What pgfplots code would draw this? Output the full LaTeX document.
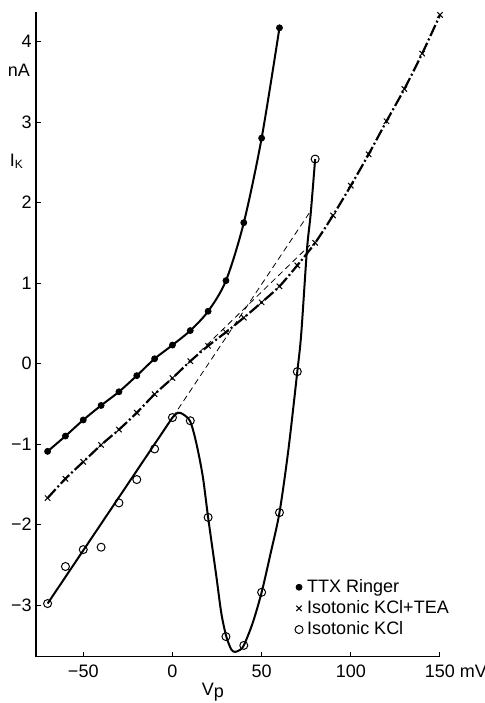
\documentclass[border=0pt]{standalone}
\usepackage{fontspec}
\setmainfont{Liberation Sans}
\usepackage{pgfplots}
\pgfplotsset{compat=1.18}
\begin{document}
\fontsize{9pt}{11pt}\selectfont
\begin{tikzpicture}
\path[use as bounding box] (-18pt,-23.15pt) rectangle (224.5pt,328.35pt);
\begin{axis}[
  at={(0,0)}, anchor=south west,
  scale only axis, width=202pt, height=322.5pt,
  xmin=-76.5, xmax=150, ymin=-3.64, ymax=4.37,
  axis lines*=left,
  axis line style={line width=0.6pt},
  tick align=inside, major tick length=2.5pt,
  tick style={line width=0.5pt, black},
  xtick={-50,0,50,100,150},
  xticklabels={−50,0,50,100,150\rlap{ mV}},
  ytick={-3,-2,-1,0,1,2,3,4},
  yticklabels={−3,−2,−1,0,1,2,3,4},
  xticklabel style={yshift=-1pt},
  yticklabel style={xshift=1pt},
  /pgf/number format/assume math mode=true,
  clip=false,
  legend style={draw=none, fill=none, at={(axis cs:68.5,-2.66)}, anchor=north west,
    inner sep=0pt, row sep=1.5pt, font=\fontsize{9pt}{11pt}\selectfont,
    nodes={inner sep=0.6pt}},
  legend cell align=left,
]
% dashed extrapolations
\addplot[forget plot, black, line width=0.4pt, dash pattern=on 3pt off 2pt] coordinates {(0,-0.67) (77,1.88)};
\addplot[forget plot, black, line width=0.4pt, dash pattern=on 3pt off 2pt] coordinates {(15,0.14) (77,1.47)};
% TTX Ringer curve
\addplot[forget plot, black, line width=1pt, smooth] coordinates {
(-70,-1.09) (-60,-0.90) (-50,-0.70) (-40,-0.52) (-30,-0.35) (-20,-0.15) (-10,0.06) (0,0.23) (10,0.41) (20,0.65) (30,1.03) (40,1.75) (50,2.80) (60,4.17)};
% KCl+TEA curve
\addplot[forget plot, black, line width=1.1pt, smooth, dash pattern=on 6pt off 1.4pt on 1pt off 1.4pt] coordinates {
(-70,-1.67) (-60,-1.43) (-50,-1.22) (-40,-1.01) (-30,-0.82) (-20,-0.61) (-10,-0.38) (0,-0.18) (10,0.03) (20,0.22) (30,0.39) (40,0.57) (50,0.76) (60,0.96) (70,1.22) (80,1.50) (90,1.84) (100,2.21) (110,2.60) (120,3.01) (130,3.41) (140,3.85) (150,4.33)};
% KCl curve
\addplot[forget plot, black, line width=1pt] coordinates {(-70,-2.98) (0,-0.67)};
\addplot[forget plot, black, line width=1pt, smooth] coordinates {
(0,-0.67) (3,-0.61) (6,-0.63) (10,-0.72) (13.4,-0.99) (17,-1.40) (20,-1.91) (24.6,-2.64) (27.4,-3.10) (30.2,-3.39) (33,-3.55) (35,-3.58) (37.5,-3.56) (40,-3.50) (45,-3.22) (50,-2.84) (55,-2.36) (60,-1.85) (65,-1.07) (70,-0.10) (72.2,0.37) (75.4,1.41) (77.5,1.86) (80,2.54)};
% marks
\addplot[only marks, mark=*, mark size=1.5pt, black] coordinates {
(-70,-1.09) (-60,-0.90) (-50,-0.70) (-40,-0.52) (-30,-0.35) (-20,-0.15) (-10,0.06) (0,0.23) (10,0.41) (20,0.65) (30,1.03) (40,1.75) (50,2.80) (60,4.17)};
\addlegendentry{\,TTX Ringer}
\addplot[only marks, mark=x, mark size=1.9pt, black, mark options={line width=0.5pt}] coordinates {
(-70,-1.67) (-60,-1.43) (-50,-1.22) (-40,-1.01) (-30,-0.82) (-20,-0.61) (-10,-0.38) (0,-0.18) (10,0.03) (20,0.22) (30,0.39) (40,0.57) (50,0.76) (60,0.96) (70,1.22) (80,1.50) (90,1.84) (100,2.21) (110,2.60) (120,3.01) (130,3.41) (140,3.85) (150,4.33)};
\addlegendentry{\,Isotonic KCl+TEA}
\addplot[only marks, mark=o, mark size=2pt, black, mark options={fill=white, line width=0.5pt}] coordinates {
(-70,-2.98) (-60,-2.52) (-50,-2.31) (-40,-2.28) (-30,-1.73) (-20,-1.44) (-10,-1.06) (0,-0.67) (10,-0.71) (20,-1.91) (30,-3.39) (40,-3.50) (50,-2.84) (60,-1.85) (70,-0.10) (80,2.54)};
\addlegendentry{\,Isotonic KCl}
\node at (axis cs:-86.1,3.64) {nA};
\node at (axis cs:-87.2,2.51) {I\textsubscript{K}};
\node at (axis cs:22.6,-4.08) {V\raisebox{-0.25ex}{p}};
\end{axis}
\end{tikzpicture}
\end{document}
